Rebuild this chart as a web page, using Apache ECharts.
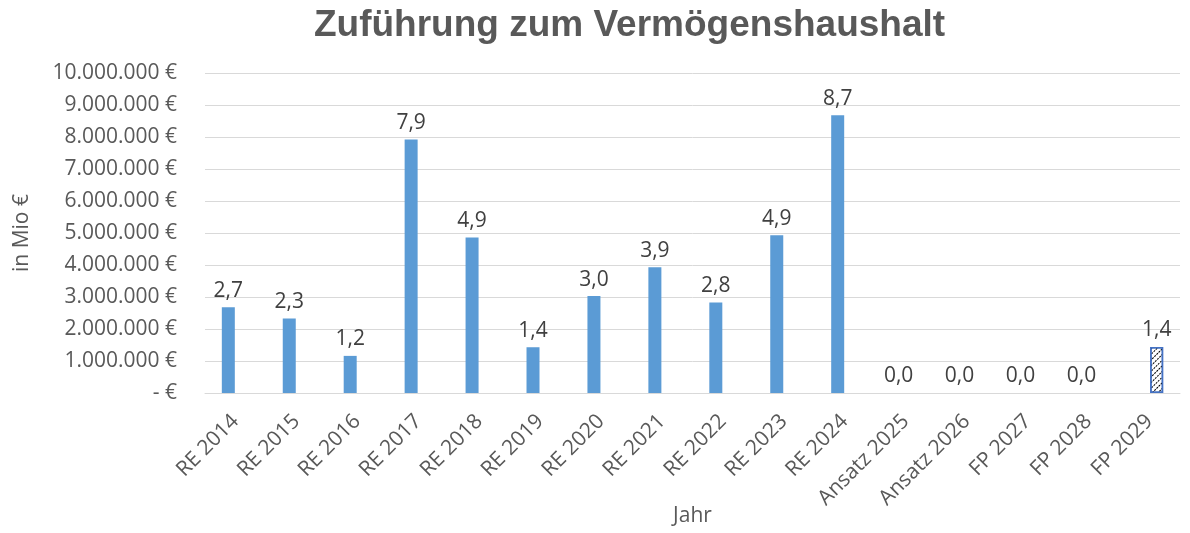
<!DOCTYPE html>
<html>
<head>
<meta charset="utf-8">
<script src="https://cdn.jsdelivr.net/npm/echarts@6/dist/echarts.min.js"></script>
<style>
  html, body { margin: 0; padding: 0; background: #fff; }
  #main { width: 1190px; height: 533px; }
</style>
</head>
<body>
<div id="main"></div>
<script>
// Jahre / Kategorien
const jahre = ['RE 2014', 'RE 2015', 'RE 2016', 'RE 2017', 'RE 2018', 'RE 2019', 'RE 2020', 'RE 2021',
  'RE 2022', 'RE 2023', 'RE 2024', 'Ansatz 2025', 'Ansatz 2026', 'FP 2027', 'FP 2028', 'FP 2029'];
// Zuführung in € (Rechnungsergebnis / Ansatz)
const zufuehrung = [2680000, 2330000, 1160000, 7920000, 4860000, 1430000, 3030000, 3930000,
  2830000, 4930000, 8680000, 0, 0, 0, 0, null];
// Finanzplanung (schraffiert)
const finanzplan = [null, null, null, null, null, null, null, null,
  null, null, null, null, null, null, null, 1440000];
const yTicks = [0, 1000000, 2000000, 3000000, 4000000, 5000000, 6000000, 7000000, 8000000, 9000000, 10000000];

const FONT = 'Open Sans';
const grau = '#595959';

function euro(v) {
  if (v === 0) return '- €';
  return String(Math.round(v)).replace(/\B(?=(\d{3})+(?!\d))/g, '.') + ' €';
}
function mio(p) {
  return (Math.round(p.value / 100000) / 10).toFixed(1).replace('.', ',');
}

const chart = echarts.init(document.getElementById('main'));

const labelStyle = {
  show: true,
  position: 'top',
  distance: 6,
  color: '#404040',
  fontFamily: FONT,
  fontSize: 21,
  formatter: mio
};

chart.setOption({
  animation: false,
  backgroundColor: '#fff',
  title: {
    text: 'Zuführung zum Vermögenshaushalt',
    left: 309,
    top: 2,
    textStyle: { fontFamily: 'Liberation Sans', fontWeight: 'bold', fontSize: 37, color: grau }
  },
  grid: { left: 205, right: 10, top: 73, bottom: 140, containLabel: false, outerBoundsMode: 'none' },
  xAxis: {
    type: 'category',
    data: jahre,
    name: 'Jahr',
    nameLocation: 'middle',
    nameGap: 113,
    nameMoveOverlap: false,
    nameTextStyle: { fontFamily: FONT, fontSize: 21, color: grau },
    axisLine: { lineStyle: { color: '#d9d9d9', width: 1 } },
    axisTick: { show: false },
    axisLabel: { rotate: 45, margin: 25, fontFamily: FONT, fontSize: 21, color: grau }
  },
  yAxis: {
    type: 'value',
    min: yTicks[0],
    max: yTicks[yTicks.length - 1],
    interval: 1000000,
    name: 'in Mio €',
    nameLocation: 'middle',
    nameGap: 172,
    nameRotate: 90,
    nameMoveOverlap: false,
    nameTextStyle: { fontFamily: FONT, fontSize: 21, color: grau },
    axisLine: { show: false },
    axisTick: { show: false },
    splitLine: { lineStyle: { color: '#d9d9d9', width: 1 } },
    axisLabel: { margin: 28, fontFamily: FONT, fontSize: 21, color: grau, formatter: euro }
  },
  series: [
    {
      name: 'Ergebnis',
      type: 'bar',
      data: zufuehrung,
      barWidth: 13,
      barGap: '10%',
      itemStyle: { color: '#5b9bd5' },
      label: labelStyle
    },
    {
      name: 'Finanzplanung',
      type: 'bar',
      data: finanzplan,
      barWidth: 13,
      itemStyle: {
        color: '#ffffff',
        borderColor: '#4472c4',
        borderWidth: 1.5,
        decal: {
          symbol: 'rect',
          symbolSize: 1,
          color: '#000000',
          dashArrayX: [2, 1],
          dashArrayY: [1, 3],
          rotation: -Math.PI / 4
        }
      },
      label: labelStyle
    }
  ]
});
</script>
</body>
</html>
